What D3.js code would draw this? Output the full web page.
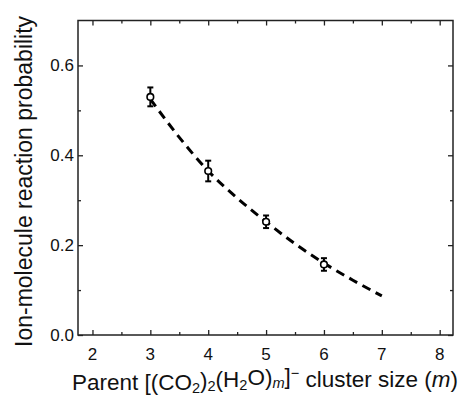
<!DOCTYPE html>
<html>
<head>
<meta charset="utf-8">
<script src="https://cdn.jsdelivr.net/npm/d3@7"></script>
<style>
  body { margin: 0; background: #fff; }
  svg text { font-family: "Liberation Sans", Arial, sans-serif; fill: #111; }
</style>
</head>
<body>
<div id="chart"></div>
<script>
// cluster size m, measured probability, error
const sizes = [3, 4, 5, 6];
const probs = [0.530, 0.365, 0.252, 0.157];
const errs = [0.021, 0.023, 0.014, 0.014];

// dashed fit curve
const fitM = [3, 3.5, 4, 4.5, 5, 5.5, 6, 6.5, 7];
const fitP = [0.525, 0.44, 0.365, 0.305, 0.252, 0.203, 0.16, 0.122, 0.087];

const xTicks = [2, 3, 4, 5, 6, 7, 8];
const xMinor = [2.5, 3.5, 4.5, 5.5, 6.5, 7.5];
const yTicks = [0.0, 0.2, 0.4, 0.6];
const yMinor = [0.1, 0.3, 0.5];

let width = 461;
let height = 400;
let margin = { top: 20.5, right: 8, bottom: 65, left: 78 };
let innerW = width - margin.left - margin.right;
let innerH = height - margin.top - margin.bottom;

const svg = d3.select("#chart")
    .append("svg")
    .attr("width", width)
    .attr("height", height);

const g = svg.append("g")
    .attr("transform", `translate(${margin.left},${margin.top})`);

const x = d3.scaleLinear().domain([1.75, 8.23]).range([0, innerW]);
const y = d3.scaleLinear().domain([0, 0.7]).range([innerH, 0]);

// ticks, all pointing inward
function tickAxis(axisFn, scale, vals, size, tx) {
    const a = g.append("g")
        .attr("transform", tx)
        .call(axisFn(scale).tickValues(vals).tickSize(size).tickFormat(""));
    a.select(".domain").remove();
    a.selectAll("line").attr("stroke", "#222").attr("stroke-width", 1.3);
    return a;
}
tickAxis(d3.axisBottom, x, xTicks, -5, `translate(0,${innerH})`);
tickAxis(d3.axisBottom, x, xMinor, -3, `translate(0,${innerH})`);
tickAxis(d3.axisTop, x, xTicks, -5, "translate(0,0)");
tickAxis(d3.axisTop, x, xMinor, -3, "translate(0,0)");
tickAxis(d3.axisLeft, y, yTicks, -5, "translate(0,0)");
tickAxis(d3.axisLeft, y, yMinor, -3, "translate(0,0)");
tickAxis(d3.axisRight, y, yTicks, -5, `translate(${innerW},0)`);
tickAxis(d3.axisRight, y, yMinor, -3, `translate(${innerW},0)`);

// frame
g.append("rect")
    .attr("width", innerW)
    .attr("height", innerH)
    .attr("fill", "none")
    .attr("stroke", "#222")
    .attr("stroke-width", 1.5);

// tick labels
g.selectAll(".xlab")
    .data(xTicks)
    .enter()
    .append("text")
    .attr("x", d => x(d))
    .attr("y", innerH + 25)
    .attr("text-anchor", "middle")
    .style("font-size", "17px")
    .text(d => d);

g.selectAll(".ylab")
    .data(yTicks)
    .enter()
    .append("text")
    .attr("x", -4)
    .attr("y", d => y(d) + 6)
    .attr("text-anchor", "end")
    .style("font-size", "17px")
    .text(d => d.toFixed(1));

// dashed fit
const fit = fitM.map((m, i) => ({ m, p: fitP[i] }));
g.append("path")
    .datum(fit)
    .attr("fill", "none")
    .attr("stroke", "#000")
    .attr("stroke-width", 3)
    .attr("stroke-dasharray", "9,6")
    .attr("d", d3.line().x(d => x(d.m)).y(d => y(d.p)).curve(d3.curveMonotoneX));

// data points with error bars
const pts = sizes.map((m, i) => ({ m, p: probs[i], e: errs[i] }));
const pg = g.selectAll(".pt")
    .data(pts)
    .enter()
    .append("g");

pg.append("line")
    .attr("x1", d => x(d.m)).attr("x2", d => x(d.m))
    .attr("y1", d => y(d.p + d.e)).attr("y2", d => y(d.p - d.e))
    .attr("stroke", "#000").attr("stroke-width", 2);
[1, -1].forEach(s => {
    pg.append("line")
        .attr("x1", d => x(d.m) - 3).attr("x2", d => x(d.m) + 3)
        .attr("y1", d => y(d.p + s * d.e)).attr("y2", d => y(d.p + s * d.e))
        .attr("stroke", "#000").attr("stroke-width", 2);
});
pg.append("circle")
    .attr("cx", d => x(d.m))
    .attr("cy", d => y(d.p))
    .attr("r", 3.3)
    .attr("fill", "#fff")
    .attr("stroke", "#000")
    .attr("stroke-width", 1.6);

// axis titles
svg.append("text")
    .attr("transform", "translate(32,347) rotate(-90)")
    .style("font-size", "23px")
    .text("Ion-molecule reaction probability");

const xt = svg.append("text")
    .attr("x", 72)
    .attr("y", 390)
    .style("font-size", "22px");
xt.append("tspan").text("Parent [(CO");
xt.append("tspan").attr("dy", "0.2em").style("font-size", "0.65em").text("2");
xt.append("tspan").attr("dy", "-0.2em").text(")");
xt.append("tspan").attr("dy", "0.2em").style("font-size", "0.65em").text("2");
xt.append("tspan").attr("dy", "-0.2em").text("(H");
xt.append("tspan").attr("dy", "0.2em").style("font-size", "0.65em").text("2");
xt.append("tspan").attr("dy", "-0.2em").text("O)");
xt.append("tspan").attr("dy", "0.2em").style("font-size", "0.65em").style("font-style", "italic").text("m");
xt.append("tspan").attr("dy", "-0.2em").text("]");
xt.append("tspan").attr("dy", "-0.4em").style("font-size", "0.65em").text("\u2212");
xt.append("tspan").attr("dy", "0.4em").text(" cluster size (");
xt.append("tspan").style("font-style", "italic").text("m");
xt.append("tspan").text(")");

// fit title width to the span seen in the figure
const w = xt.node().getComputedTextLength();
const target = 386;
xt.style("font-size", (22 * target / w) + "px");
</script>
</body>
</html>
